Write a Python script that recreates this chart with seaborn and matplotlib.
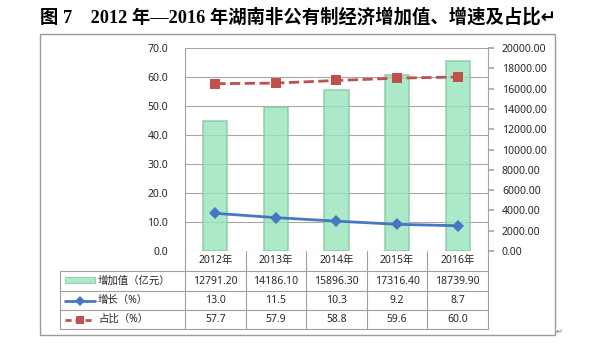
import numpy as np
import pandas as pd
import matplotlib
matplotlib.use('Agg')
import matplotlib.pyplot as plt
from matplotlib.patches import Rectangle
from matplotlib.lines import Line2D
from matplotlib.ticker import FormatStrFormatter
import seaborn as sns

# chart data
years = ['2012年', '2013年', '2014年', '2015年', '2016年']
added_value = [12791.20, 14186.10, 15896.30, 17316.40, 18739.90]   # 亿元, right axis
growth = [13.0, 11.5, 10.3, 9.2, 8.7]                              # %, left axis
share = [57.7, 57.9, 58.8, 59.6, 60.0]                             # %, left axis
row_labels = ['增加值（亿元）', '增长（%）', '占比（%）']
value_text = ['%.2f' % v for v in added_value]
growth_text = ['%.1f' % v for v in growth]
share_text = ['%.1f' % v for v in share]
title = '图 7　2012 年—2016 年湖南非公有制经济增加值、增速及占比↵'

df = pd.DataFrame({'year': years, 'value': added_value,
                   'growth': growth, 'share': share})

sns.set_theme(style='white')
plt.rcParams['font.family'] = ['Noto Sans', 'Noto Sans CJK SC', 'DejaVu Sans']

green = '#98e4bc'
green_edge = '#86c7a2'
blue = '#4677c0'
red = '#c0504d'
grid_col = '#a6a6a6'
txt = '#262626'
fs = 7.5

W, H = 593, 351
fig = plt.figure(figsize=(W / 100, H / 100), dpi=100)

def fx(x):
    return x / W

def fy(y):
    return 1 - y / H

# outer frame
fig.patches.append(Rectangle((fx(40), fy(335)), fx(555) - fx(40), fy(34) - fy(335),
                             transform=fig.transFigure, fill=False,
                             edgecolor='#9a9a9a', linewidth=1))

# title
fig.text(fx(40), fy(17), title, ha='left', va='center', fontsize=13.2, weight='bold',
         family=['Liberation Serif', 'Noto Sans CJK SC', 'DejaVu Sans'], color='black')

# main axes: left scale + gridlines
ax = fig.add_axes([fx(185), fy(251), fx(488) - fx(185), fy(48) - fy(251)])
ax.set_ylim(0, 70)
ax.set_yticks(np.arange(0, 71, 10))
ax.yaxis.set_major_formatter(FormatStrFormatter('%.1f'))
ax.grid(axis='y', color=grid_col, linewidth=0.8)
ax.set_axisbelow(True)
ax.tick_params(axis='y', length=0, labelsize=fs, labelcolor=txt, pad=12)
for s in ['top', 'right', 'bottom']:
    ax.spines[s].set_visible(False)
ax.spines['left'].set_color(grid_col)
ax.spines['left'].set_linewidth(0.8)

# bars on the right scale (slightly see-through, gridlines show across them)
ax_bar = ax.twinx()
sns.barplot(data=df, x='year', y='value', ax=ax_bar, width=0.4, color=green,
            edgecolor=green_edge, linewidth=1.2, saturation=1, alpha=0.8)
ax_bar.set_ylim(0, 20000)
ax_bar.set_yticks(np.arange(0, 20001, 2000))
ax_bar.yaxis.set_major_formatter(FormatStrFormatter('%.2f'))
ax_bar.tick_params(axis='y', length=4, color=grid_col, labelsize=fs, labelcolor=txt, pad=6)
ax_bar.set_ylabel('')
for s in ['top', 'left', 'bottom']:
    ax_bar.spines[s].set_visible(False)
ax_bar.spines['right'].set_color(grid_col)
ax_bar.spines['right'].set_linewidth(0.8)

# lines on the left scale, drawn above the bars
ax_line = ax.twinx()
ax_line.set_ylim(0, 70)
sns.pointplot(data=df, x='year', y='growth', ax=ax_line, color=blue, markers='D',
              linestyles='-', linewidth=2, markersize=6, markeredgewidth=0)
sns.pointplot(data=df, x='year', y='share', ax=ax_line, color=red, markers='s',
              linestyles='--', linewidth=2, markersize=7, markeredgewidth=0)
ax_line.lines[-1].set_dashes([2.2, 1.4])
ax_line.set_ylim(0, 70)
ax_line.set_yticks([])
ax_line.set_ylabel('')
for s in ax_line.spines.values():
    s.set_visible(False)

for a in (ax, ax_bar, ax_line):
    a.set_xlim(-0.5, 4.5)
    a.set_xlabel('')
ax.set_xticks([])

# data table under the plot
x0, x1 = fx(185), fx(488)
edges = np.linspace(x0, x1, len(years) + 1)
centers = (edges[:-1] + edges[1:]) / 2
row_y = [251, 271, 291, 310, 329]
lc = '#a0a0a0'

for y in row_y[1:]:
    fig.lines.append(Line2D([fx(60), x1], [fy(y), fy(y)], transform=fig.transFigure,
                            color=lc, linewidth=0.8))
fig.lines.append(Line2D([fx(60), fx(60)], [fy(271), fy(329)], transform=fig.transFigure,
                        color=lc, linewidth=0.8))
for e in edges:
    fig.lines.append(Line2D([e, e], [fy(251), fy(329)], transform=fig.transFigure,
                            color=lc, linewidth=0.8))

for c, yr in zip(centers, years):
    fig.text(c, fy(261), yr, ha='center', va='center', fontsize=fs, color=txt)

for row, texts in enumerate([value_text, growth_text, share_text]):
    yc = fy((row_y[row + 1] + row_y[row + 2]) / 2)
    for c, t in zip(centers, texts):
        fig.text(c, yc, t, ha='center', va='center', fontsize=fs, color=txt)
    fig.text(fx(98), yc, row_labels[row], ha='left', va='center', fontsize=fs, color=txt)

# legend keys in the label column
fig.patches.append(Rectangle((fx(65), fy(283)), fx(95) - fx(65), fy(277) - fy(283),
                             transform=fig.transFigure, facecolor=green, alpha=0.8,
                             edgecolor=green_edge, linewidth=0.8))
fig.lines.append(Line2D([fx(65), fx(95)], [fy(300.5), fy(300.5)], transform=fig.transFigure,
                        color=blue, linewidth=2))
fig.lines.append(Line2D([fx(80)], [fy(300.5)], transform=fig.transFigure, color=blue,
                        marker='D', markersize=5, markeredgewidth=0, linestyle='none'))
fig.lines.append(Line2D([fx(65), fx(95)], [fy(319.5), fy(319.5)], transform=fig.transFigure,
                        color=red, linewidth=2, dashes=[2.2, 1.4]))
fig.lines.append(Line2D([fx(80)], [fy(319.5)], transform=fig.transFigure, color=red,
                        marker='s', markersize=6, markeredgewidth=0, linestyle='none'))

fig.text(fx(556), fy(331), '↵', ha='left', va='center', fontsize=6, color='#808080',
         family=['DejaVu Sans'])

fig.savefig('out.png', dpi=100)
